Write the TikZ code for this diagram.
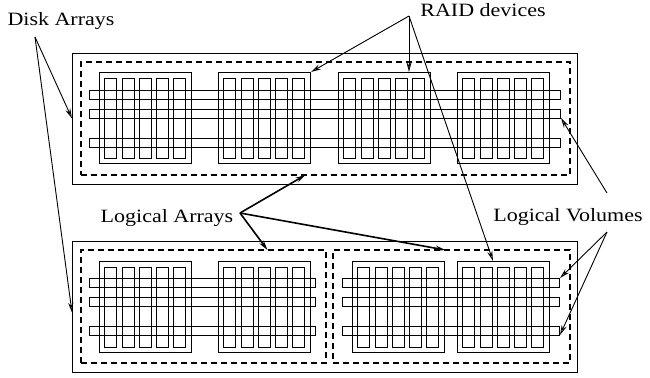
\documentclass[tikz,border=0pt]{standalone}
\usepackage{fontspec}
\setmainfont{Liberation Serif}
\usepackage{tikz}
\usetikzlibrary{arrows.meta}

\begin{document}
\begin{tikzpicture}[
    x=0.5pt, y=-0.5pt,
    line width=0.5pt,
    lbl/.style={font=\fontsize{9.4}{11}\selectfont, inner sep=0, anchor=base,
                xscale=1.17, transform shape},
    diskarray/.style={draw, anchor=north west, inner sep=0, outer sep=0,
                minimum width=253pt, minimum height=65.5pt},
    logarray/.style={draw, dashed, line width=1pt, dash pattern=on 2.8pt off 2.2pt,
                anchor=north west, inner sep=0, outer sep=0, minimum height=56.5pt},
    raid/.style={draw, anchor=north west, inner sep=0, outer sep=0,
                minimum width=46pt, minimum height=45.5pt},
    disk/.style={draw, anchor=north west, inner sep=0, outer sep=0,
                minimum width=6pt, minimum height=40pt},
    lvol/.style={draw, anchor=north west, inner sep=0, outer sep=0,
                minimum height=4.5pt},
    arrow/.style={-{Stealth[open, length=5pt, width=2.6pt]}, line width=0.45pt},
    thickarrow/.style={-{Stealth[open, length=5pt, width=2.6pt]}, line width=0.8pt}
]
\useasboundingbox (0,0) rectangle (650,377);

% --- Disk arrays ---
\node[diskarray] (top) at (72,53) {};
\node[diskarray] (bot) at (72,241) {};

% --- Logical arrays ---
\node[logarray, minimum width=244.5pt] (la1) at (81,62) {};
\node[logarray, minimum width=122.5pt] (la2) at (81,250) {};
\node[logarray, minimum width=118.5pt] (la3) at (333,250) {};

% --- RAID devices and their disks ---
\foreach \g/\gx/\gy in {11/100/72, 12/219/72, 13/339/72, 14/458/72,
                        21/100/261, 22/219/261, 23/353/261, 24/458/261} {
  \node[raid] (g\g) at (\gx,\gy) {};
  \foreach \i in {0,...,4}
    \node[disk] (d\g\i) at (\gx+5+17.25*\i,\gy+6) {};
}

% --- Logical volumes ---
\foreach \k/\by in {1/90, 2/109, 3/138} {
  \node[lvol, minimum width=235.5pt] (lvt\k) at (90,\by) {};
  \node[lvol, minimum width=113pt] (lvl\k) at (90,\by+188) {};
  \node[lvol, minimum width=108.5pt] (lvr\k) at (343,\by+188) {};
}

% --- Labels ---
\node[lbl] (disklbl) at (61,25) {Disk Arrays};
\node[lbl] (raidlbl) at (483,16) {RAID devices};
\node[lbl] (arrlbl) at (167,222) {Logical Arrays};
\node[lbl] (vollbl) at (568,221) {Logical Volumes};

\coordinate (da) at (35,37);
\coordinate (rd) at (409,16);
\coordinate (la) at (240,213);
\coordinate (lv1) at (607,193);
\coordinate (lv2) at (607,232);

% --- Pointers ---
\draw[arrow] (da) -- (top.west);
\draw[arrow] (da) -- ([yshift=-3pt]bot.west);

\draw[arrow] (rd) -- (g12.north east);
\draw[arrow] (rd) -- (rd |- g13.north);
\draw[arrow] (rd) -- ([xshift=-5.5pt]g24.north);

\draw[thickarrow] (la) -- ([xshift=-10pt]la1.south);
\draw[thickarrow] (la) -- ([xshift=32pt]la2.north);
\draw[thickarrow] (la) -- ([xshift=-3pt]la3.north);

\draw[arrow] (lv1) -- (lvt2.south east);
\draw[arrow] (lv2) -- (lvr1.north east);
\draw[arrow] (lv2) -- (lvr3.south east);

\end{tikzpicture}
\end{document}
